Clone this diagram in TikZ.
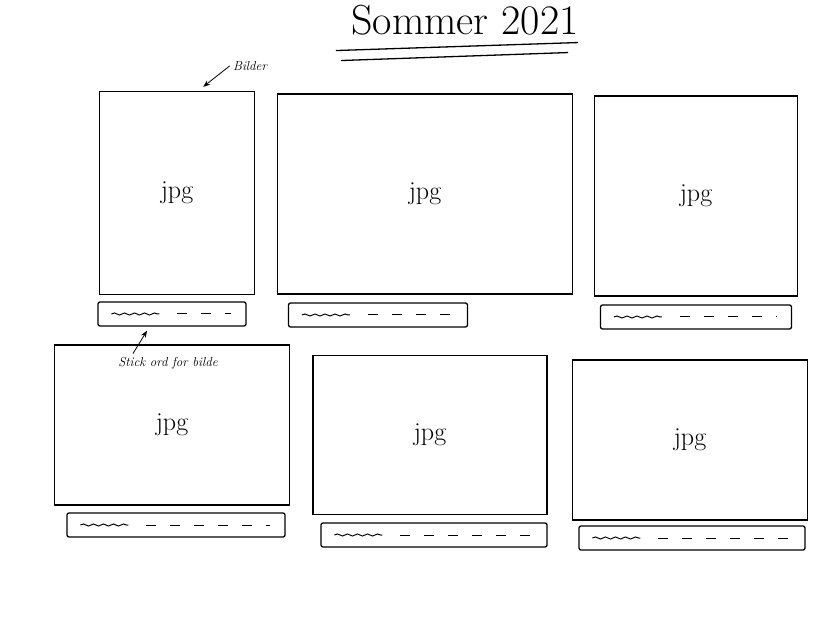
\documentclass[tikz,border=0pt]{standalone}
\usetikzlibrary{positioning,decorations.pathmorphing,arrows.meta}

\tikzset{
  photo/.style={draw, line width=1.3pt, font=\fontsize{26}{28}\selectfont},
  caption/.style={draw, line width=1.3pt, rounded corners=2pt, minimum height=24pt},
  scribble/.style={line width=1pt, decorate, decoration={snake, amplitude=1pt, segment length=10pt}},
  fill dashes/.style={line width=1pt, dash pattern=on 10pt off 14pt},
  note/.style={font=\fontsize{13}{14}\selectfont\itshape},
}

\begin{document}
\begin{tikzpicture}[x=1pt, y=-1pt]
  \useasboundingbox (0,0) rectangle (838,628);

  \node[font=\fontsize{42}{44}\selectfont] (title) at (465,20) {Sommer 2021};
  \draw[line width=1.3pt] ([shift={(-12,12)}]title.south west) -- ([shift={(-4,4)}]title.south east);
  \draw[line width=1.3pt] ([shift={(-7,22)}]title.south west) -- ([shift={(-14,14)}]title.south east);

  % first row
  \node[photo, minimum width=155pt, minimum height=203pt] (imgA) at (177,193) {jpg};
  \node[photo, minimum width=295pt, minimum height=200pt] (imgB) at (425,194) {jpg};
  \node[photo, minimum width=203pt, minimum height=200pt] (imgC) at (696,196) {jpg};
  \node[caption, minimum width=148pt] (capA) at (172,314) {};
  \node[caption, minimum width=179pt] (capB) at (378,315) {};
  \node[caption, minimum width=191pt] (capC) at (696,317) {};

  % second row
  \node[photo, minimum width=235pt, minimum height=160pt] (imgD) at (172,425) {jpg};
  \node[photo, minimum width=234pt, minimum height=159pt] (imgE) at (430,435) {jpg};
  \node[photo, minimum width=235pt, minimum height=160pt] (imgF) at (690,440) {jpg};
  \node[caption, minimum width=218pt] (capD) at (176,525) {};
  \node[caption, minimum width=226pt] (capE) at (434,535) {};
  \node[caption, minimum width=226pt] (capF) at (692,538) {};

  \foreach \c in {capA,capB,capC,capD,capE,capF} {
    \draw[scribble] ([xshift=14pt]\c.west) -- ++(48pt,0);
    \draw[fill dashes] ([xshift=80pt]\c.west) -- ([xshift=-16pt]\c.east);
  }

  \node[note] (bilder) at (250,66) {Bilder};
  \draw[-{Stealth[length=7pt]}, line width=0.8pt] (bilder.west) -- ([shift={(-52,-4)}]imgA.north east);

  \node[note] (stick) at (168,363) {Stick ord for bilde};
  \draw[-{Stealth[length=7pt]}, line width=0.8pt] ([xshift=-35pt]stick.north) -- ([shift={(-25,4)}]capA.south);
\end{tikzpicture}
\end{document}
